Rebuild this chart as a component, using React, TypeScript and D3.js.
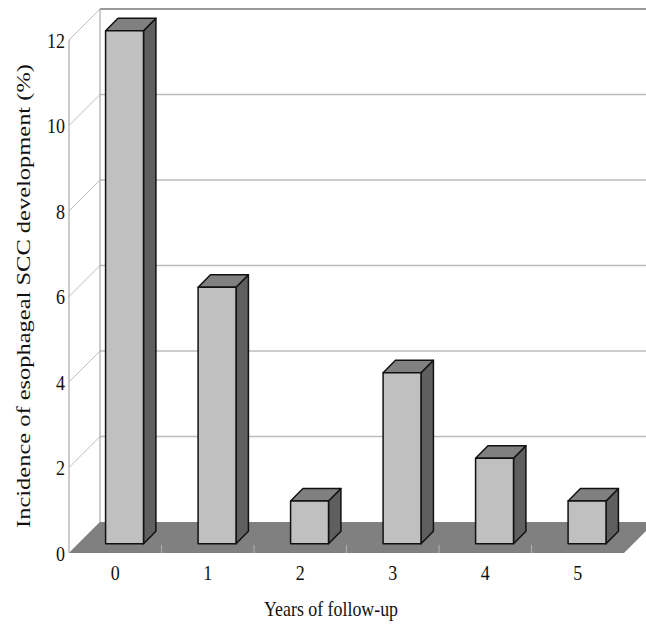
import React from "react";
import * as d3 from "d3";

const categories = ["0", "1", "2", "3", "4", "5"];
const values = [12, 6, 1, 4, 2, 1];
const yTicks = [0, 2, 4, 6, 8, 10, 12];
const yTitle = "Incidence of esophageal SCC development (%)";
const xTitle = "Years of follow-up";

const W = 646;
const H = 630;
const left = 69;
const right = 624;
const bottom = 553;
const top = 40;
const DX = 31;
const DY = 31;
const zFront = 0.3;
const zBack = 0.7;

export default function App() {
  const x = d3.scaleBand<string>().domain(categories).range([left, right]).padding(0);
  const y = d3.scaleLinear().domain([0, 12]).range([bottom, top]);
  const bw = x.bandwidth() * 0.41;
  const font = "'Liberation Serif', 'Times New Roman', serif";
  const pt = (px: number, py: number, z: number) => [px + z * DX, py - z * DY];
  const poly = (pts: number[][]) => pts.map((p) => p.join(",")).join(" ");

  const floor = [
    pt(left, bottom, 0),
    pt(right, bottom, 0),
    pt(right, bottom, 1),
    pt(left, bottom, 1),
  ];

  return (
    <svg width={W} height={H} style={{ position: "absolute", left: 0, top: 0, background: "#fff" }}>
      {/* back wall gridlines */}
      {yTicks.filter((t) => t > 0).map((t) => (
        <g key={t}>
          <line
            x1={left + DX}
            x2={W}
            y1={y(t) - DY}
            y2={y(t) - DY}
            stroke={t === 12 ? "#9a9a9a" : "#bdbdbd"}
            strokeWidth={t === 12 ? 2 : 1.5}
          />
          <line x1={left} y1={y(t)} x2={left + DX} y2={y(t) - DY} stroke="#bdbdbd" strokeWidth={1} />
        </g>
      ))}
      {/* walls' vertical edges */}
      <line x1={left + DX} x2={left + DX} y1={y(0) - DY} y2={y(12) - DY} stroke="#a8a8a8" strokeWidth={1.2} />
      <line x1={left} x2={left} y1={y(0)} y2={y(12)} stroke="#a8a8a8" strokeWidth={1.2} />
      {/* floor */}
      <polygon points={poly(floor)} fill="#808080" />
      <line x1={left} y1={bottom} x2={left + DX} y2={bottom - DY} stroke="#a8a8a8" strokeWidth={1} />
      {categories.slice(1).map((c) => (
        <line key={"ft" + c} x1={x(c)!} x2={x(c)!} y1={bottom - 8} y2={bottom} stroke="#b0b0b0" strokeWidth={1} />
      ))}
      {/* bars */}
      {categories.map((c, i) => {
        const cx = x(c)! + x.bandwidth() / 2;
        const x0 = cx - bw / 2;
        const x1 = cx + bw / 2;
        const yv = y(values[i]);
        const y0 = y(0);
        const front = [pt(x0, yv, zFront), pt(x1, yv, zFront), pt(x1, y0, zFront), pt(x0, y0, zFront)];
        const side = [pt(x1, yv, zFront), pt(x1, yv, zBack), pt(x1, y0, zBack), pt(x1, y0, zFront)];
        const topF = [pt(x0, yv, zFront), pt(x0, yv, zBack), pt(x1, yv, zBack), pt(x1, yv, zFront)];
        return (
          <g key={c} stroke="#111" strokeWidth={1.5} strokeLinejoin="round">
            <polygon points={poly(side)} fill="#5f5f5f" />
            <polygon points={poly(topF)} fill="#808080" />
            <polygon points={poly(front)} fill="#c0c0c0" />
          </g>
        );
      })}
      {/* y tick labels */}
      {yTicks.map((t) => (
        <text
          key={"yl" + t}
          transform={`translate(65,${y(t)}) scale(1,1.2)`}
          textAnchor="end"
          dominantBaseline="central"
          fontFamily={font}
          fontSize={18}
          fill="#111"
        >
          {t}
        </text>
      ))}
      {/* x tick labels */}
      {categories.map((c) => (
        <text
          key={"xl" + c}
          transform={`translate(${x(c)! + x.bandwidth() / 2},${bottom + 27}) scale(1,1.2)`}
          textAnchor="middle"
          fontFamily={font}
          fontSize={18}
          fill="#111"
        >
          {c}
        </text>
      ))}
      <text
        transform={`translate(331,616) scale(1.05,1.2)`}
        textAnchor="middle"
        fontFamily={font}
        fontSize={17}
        fill="#111"
      >
        {xTitle}
      </text>
      <text
        transform={`translate(30,296) rotate(-90) scale(1.36,1)`}
        textAnchor="middle"
        fontFamily={font}
        fontSize={18}
        fill="#111"
      >
        {yTitle}
      </text>
    </svg>
  );
}
